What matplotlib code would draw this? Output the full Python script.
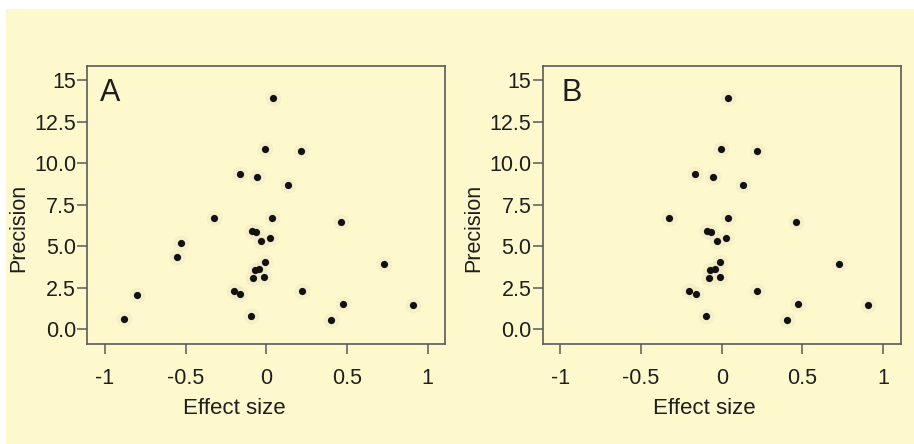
import matplotlib
matplotlib.use("Agg")
import matplotlib.pyplot as plt
from matplotlib.patches import Rectangle

plt.rcParams['font.family'] = ['Liberation Sans', 'DejaVu Sans']

# effect size / precision
effect_a = [0.040, -0.007, 0.216, -0.164, -0.057, 0.133, -0.324, 0.038, 0.462,
            -0.090, -0.065, -0.032, 0.024, -0.526, -0.555, -0.009, 0.729, -0.073,
            -0.044, -0.080, -0.013, -0.202, -0.160, 0.220, -0.799, 0.475, 0.907,
            -0.882, -0.096, 0.402]
precision_a = [13.94, 10.87, 10.73, 9.32, 9.18, 8.66, 6.70, 6.72, 6.46,
               5.90, 5.86, 5.31, 5.47, 5.19, 4.35, 4.05, 3.91, 3.59,
               3.63, 3.11, 3.15, 2.33, 2.11, 2.33, 2.09, 1.54, 1.46,
               0.62, 0.78, 0.54]

# panel B: same studies without the four leftmost ones
effect_b = [0.040, -0.007, 0.216, -0.164, -0.057, 0.133, -0.324, 0.038, 0.462,
            -0.090, -0.065, -0.032, 0.024, -0.009, 0.729, -0.073,
            -0.044, -0.080, -0.013, -0.202, -0.160, 0.220, 0.475, 0.907,
            -0.096, 0.402]
precision_b = [13.94, 10.87, 10.73, 9.32, 9.18, 8.66, 6.70, 6.72, 6.46,
               5.90, 5.86, 5.31, 5.47, 4.05, 3.91, 3.59,
               3.63, 3.11, 3.15, 2.33, 2.11, 2.33, 1.54, 1.46,
               0.78, 0.54]

xticks = [-1, -0.5, 0, 0.5, 1]
xlabels = ["-1", "-0.5", "0", "0.5", "1"]
yticks = [0, 2.5, 5, 7.5, 10, 12.5, 15]
ylabels = ["0.0", "2.5", "5.0", "7.5", "10.0", "12.5", "15"]

bg = '#fef9cd'
dark = '#1e1e1e'
spine_col = '#5a5a5a'

fig = plt.figure(figsize=(9.14, 4.44), dpi=100)
fig.patch.set_facecolor('white')
fig.patches.append(Rectangle((6 / 914, 0), 1, (444 - 9) / 444, transform=fig.transFigure,
                             facecolor=bg, edgecolor='none', zorder=-10))

panels = [
    ("A", effect_a, precision_a, 87.3 / 914, 0.41, 0.034),
    ("B", effect_b, precision_b, 542.7 / 914, 0.452, 0.053),
]

for name, xs, ys, left, xlab_pos, letter_x in panels:
    ax = fig.add_axes([left, 100.3 / 444, 358 / 914, 278 / 444])
    ax.set_facecolor(bg)
    ax.scatter(xs, ys, s=130, color='#efe6c4', alpha=0.5, linewidths=0, zorder=2)
    ax.scatter(xs, ys, s=27, color='#111111', linewidths=0, zorder=3)
    ax.set_xlim(-1.11, 1.11)
    ax.set_ylim(-0.87, 15.86)
    ax.set_xticks(xticks)
    ax.set_xticklabels(xlabels)
    ax.set_yticks(yticks)
    ax.set_yticklabels(ylabels)
    ax.tick_params(axis='both', length=7.2, width=1.1, color=spine_col,
                   labelsize=15.5, labelcolor=dark)
    ax.tick_params(axis='y', pad=0.8)
    ax.tick_params(axis='x', pad=10.5)
    for sp in ax.spines.values():
        sp.set_color(spine_col)
        sp.set_linewidth(1.2)
    ax.set_xlabel("Effect size", fontsize=16, color=dark)
    ax.xaxis.set_label_coords(xlab_pos, -0.194)
    ax.set_ylabel("Precision", fontsize=15.5, color=dark)
    ax.yaxis.set_label_coords(-0.163, 0.415)
    ax.text(letter_x, 0.955, name, transform=ax.transAxes, fontsize=22,
            color=dark, ha='left', va='top')

fig.savefig("out.png", dpi=100, facecolor=fig.get_facecolor())
